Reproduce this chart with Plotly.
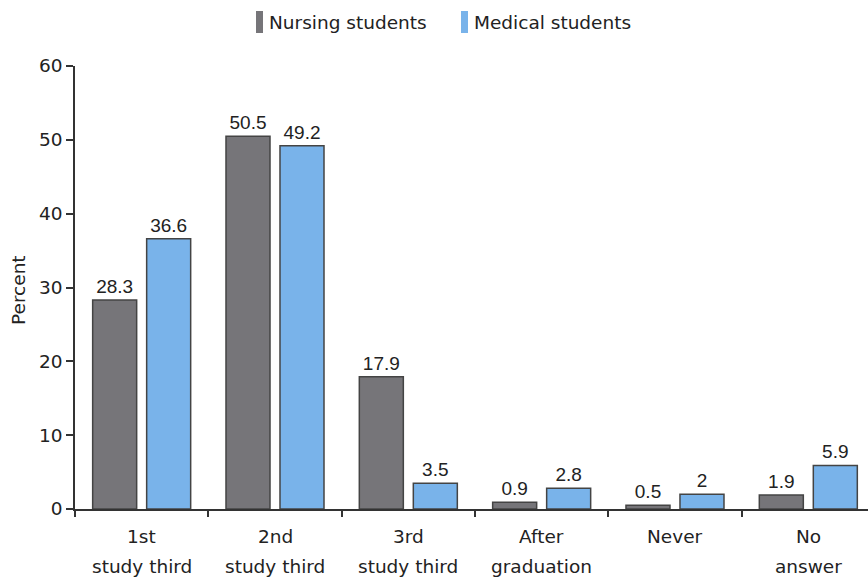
import plotly.graph_objects as go

categories = ["1st<br>study third", "2nd<br>study third", "3rd<br>study third",
              "After<br>graduation", "Never", "No<br>answer"]
nursing = [28.3, 50.5, 17.9, 0.9, 0.5, 1.9]
medical = [36.6, 49.2, 3.5, 2.8, 2.0, 5.9]
series_names = ["Nursing students", "Medical students"]
series_colors = ["#767579", "#79b3ea"]
y_ticks = [0, 10, 20, 30, 40, 50, 60]

W, H = 868, 578
L, R, T, B = 75, 0, 66, 69
plot_w = W - L - R
plot_h = H - T - B
cat_px = 133.33
x_max = -0.5 + plot_w / cat_px

tick_font = dict(family="DejaVu Sans", size=18.5, color="#222222")
value_font = dict(family="Liberation Sans, Arial", size=19, color="#222222")

fig = go.Figure()
for name, vals, col in zip(series_names, [nursing, medical], series_colors):
    fig.add_trace(go.Bar(
        x=list(range(len(categories))), y=vals, name=name,
        marker=dict(color=col, line=dict(color="#444444", width=1.5)),
        text=[f"{v:g}" for v in vals], textposition="outside",
        textfont=value_font, cliponaxis=False, showlegend=False,
    ))

# category labels under the axis, one annotation per line
for i, c in enumerate(categories):
    for j, line in enumerate(c.split("<br>")):
        fig.add_annotation(x=i, y=-(536 - (H - B) + j * 30) / plot_h,
                           xref="x", yref="paper", text=line, showarrow=False,
                           font=tick_font, yanchor="middle", xanchor="center")

# legend drawn as narrow swatches + labels
legend_items = [(256, 263, 267), (461, 468, 472)]
for (x0, x1, tx), name, col in zip(legend_items, series_names, series_colors):
    fig.add_shape(type="rect", xref="paper", yref="paper",
                  x0=(x0 - L) / plot_w, x1=(x1 - L) / plot_w,
                  y0=(H - B - 33) / plot_h, y1=(H - B - 11) / plot_h,
                  fillcolor=col, line=dict(width=0))
    fig.add_annotation(xref="paper", yref="paper", x=(tx - L) / plot_w,
                       y=(H - B - 23) / plot_h, text=name, showarrow=False,
                       xanchor="left", yanchor="middle", font=tick_font)

# y-axis title
fig.add_annotation(xref="paper", yref="paper", x=(18 - L) / plot_w,
                   y=(H - B - 290) / plot_h, text="Percent", textangle=-90,
                   showarrow=False, font=tick_font, xanchor="center", yanchor="middle")

fig.update_layout(
    width=W, height=H, margin=dict(l=L, r=R, t=T, b=B),
    plot_bgcolor="white", paper_bgcolor="white",
    barmode="group", bargap=0.19, bargroupgap=0.185,
    xaxis=dict(range=[-0.5, x_max], tickvals=[i - 0.5 for i in range(len(categories) + 1)],
               showticklabels=False, ticks="outside", ticklen=6, tickwidth=1.5,
               tickcolor="#333333", showline=True, linecolor="#333333", linewidth=1.5,
               showgrid=False, zeroline=False),
    yaxis=dict(range=[0, 60], tickvals=y_ticks, ticks="outside", ticklen=7, tickwidth=1.5,
               tickcolor="#333333", showline=True, linecolor="#333333", linewidth=1.5,
               showgrid=False, zeroline=False, tickfont=tick_font),
)

fig.write_html("out.html")
